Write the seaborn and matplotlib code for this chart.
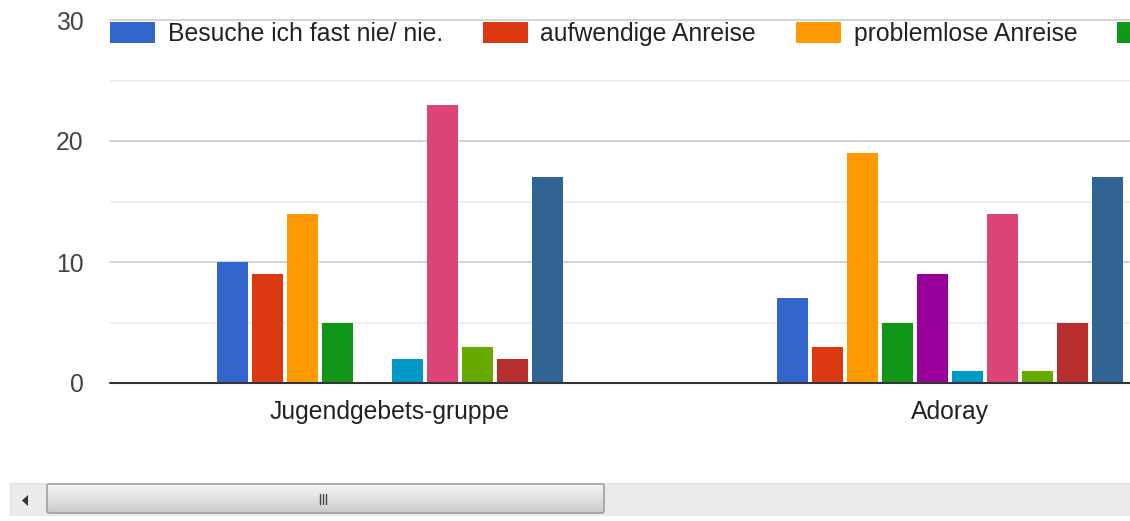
import numpy as np
import pandas as pd
import matplotlib
matplotlib.use("Agg")
import matplotlib.pyplot as plt
import matplotlib.patches as mpatches
import seaborn as sns

# Data
categories = ["Jugendgebets-gruppe", "Adoray"]
series_names = [
    "Besuche ich fast nie/ nie.",
    "aufwendige Anreise",
    "problemlose Anreise",
    "Serie 4",
    "Serie 5",
    "Serie 6",
    "Serie 7",
    "Serie 8",
    "Serie 9",
    "Serie 10",
]
values_jugend = [10, 9, 14, 5, 0, 2, 23, 3, 2, 17]
values_adoray = [7, 3, 19, 5, 9, 1, 14, 1, 5, 17]
colors = ["#3366cc", "#dc3912", "#ff9900", "#109618", "#990099",
          "#0099c6", "#dd4477", "#66aa00", "#b82e2e", "#316395"]

rows = []
for cat, vals in zip(categories, [values_jugend, values_adoray]):
    for name, v in zip(series_names, vals):
        rows.append({"Kategorie": cat, "Serie": name, "Anzahl": v})
df = pd.DataFrame(rows)

sns.set_style("white")
plt.rcParams["font.family"] = ["Liberation Sans", "DejaVu Sans"]
FS = 17.8

fig = plt.figure(figsize=(11.3, 5.21), dpi=100)
W, H = 1130, 521
ax = fig.add_axes([110 / W, (H - 383) / H, 1 - 110 / W, (383 - 20) / H])

sns.barplot(data=df, x="Kategorie", y="Anzahl", hue="Serie",
            hue_order=series_names, palette=colors, width=0.625, gap=0.09,
            saturation=1, linewidth=0, ax=ax, legend=False)

ax.set_xlim(-0.5, (W - 110) / 560 - 0.5)
ax.set_ylim(0, 30)
for y in [5, 15, 25]:
    ax.axhline(y, color="#ebebeb", linewidth=1.2, zorder=0)
for y in [10, 20, 30]:
    ax.axhline(y, color="#cccccc", linewidth=1.2, zorder=0, clip_on=False)
ax.axhline(0, color="#333333", linewidth=1.5, zorder=3, clip_on=False)

for s in ax.spines.values():
    s.set_visible(False)
ax.set_yticks([0, 10, 20, 30])
ax.tick_params(axis="y", length=0, pad=19, labelsize=FS, labelcolor="#444444")
ax.tick_params(axis="x", length=0, pad=12, labelsize=FS, labelcolor="#222222")
ax.set_xlabel("")
ax.set_ylabel("")

# legend across the top, cut off at the right edge like the original
handles = [mpatches.Patch(facecolor=c, edgecolor="none") for c in colors]
leg = fig.legend(handles, series_names, loc="upper left", ncol=10,
                 bbox_to_anchor=(110 / W, 1 - 22 / H), frameon=True,
                 facecolor="white", edgecolor="none", framealpha=1,
                 fontsize=FS, handlelength=1.83, handleheight=0.92,
                 handletextpad=0.5, columnspacing=1.62, borderpad=0,
                 borderaxespad=0)
for t in leg.get_texts():
    t.set_color("#222222")

# scrollbar strip at the bottom
sb = fig.add_axes([0, (H - 516) / H, 1, 33 / H])
sb.set_xlim(0, W)
sb.set_ylim(0, 33)
sb.axis("off")
sb.add_patch(mpatches.Rectangle((10, 0), W - 10, 33, facecolor="#ebebeb",
                                edgecolor="#e2e2e2", linewidth=1))
thumb = mpatches.FancyBboxPatch((47, 3), 557, 29,
                                boxstyle="round,pad=0,rounding_size=2",
                                facecolor="none", edgecolor="#a0a0a0",
                                linewidth=1.2, zorder=3)
grad = np.linspace(0, 1, 50).reshape(-1, 1)
img = sb.imshow(grad, extent=(47, 604, 3, 32), origin="lower",
                cmap=matplotlib.colors.LinearSegmentedColormap.from_list(
                    "thumb", ["#c9c9c9", "#e2e2e2", "#f4f4f4"]),
                aspect="auto", zorder=2)
sb.add_patch(thumb)
img.set_clip_path(thumb)
sb.set_xlim(0, W)
sb.set_ylim(0, 33)
for gx in [320, 323, 326]:
    sb.plot([gx, gx], [12, 22], color="#444444", linewidth=1, zorder=4)
sb.add_patch(mpatches.Polygon([[22, 15.5], [28, 21], [28, 10]], closed=True,
                              facecolor="#333333", edgecolor="none"))

fig.savefig("out.png", dpi=100)
